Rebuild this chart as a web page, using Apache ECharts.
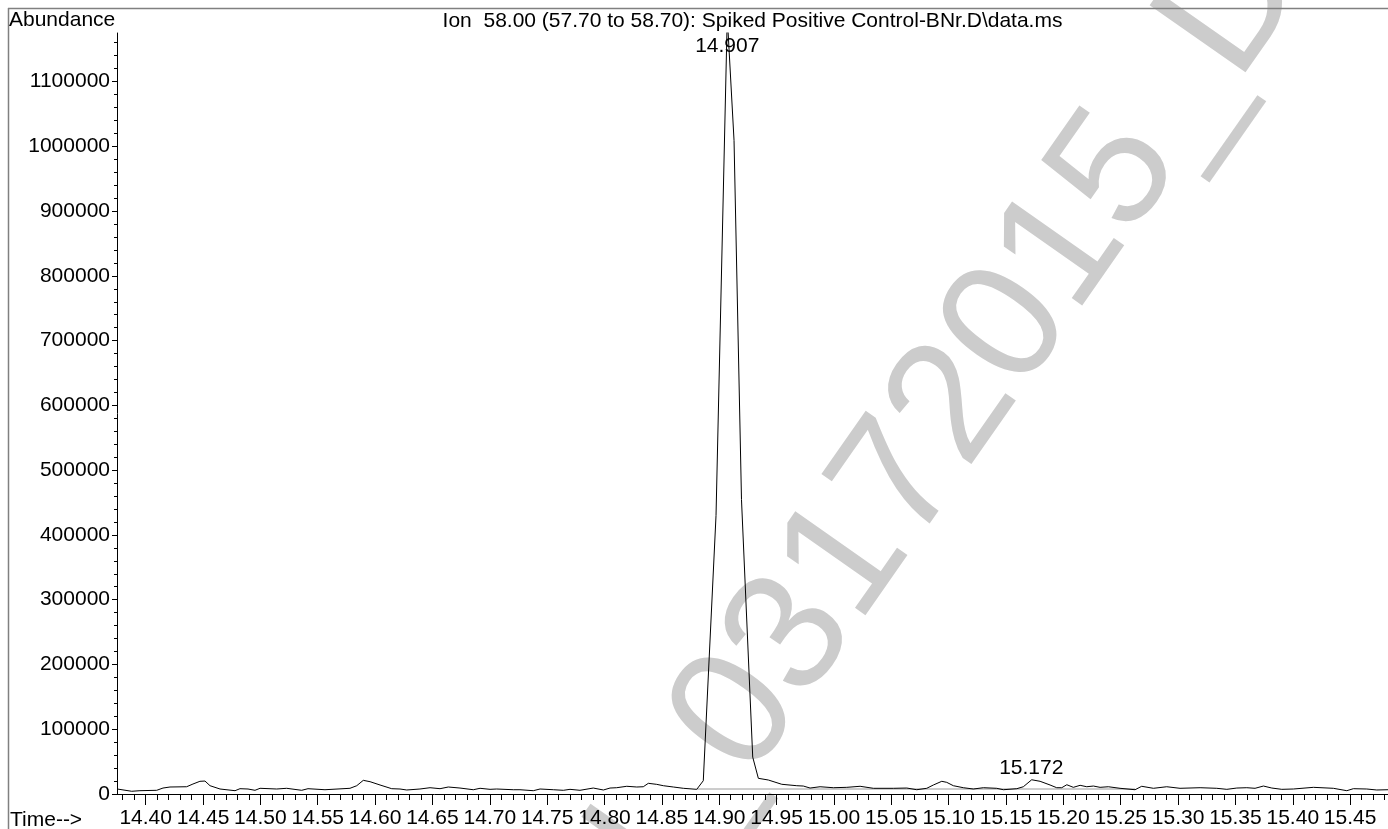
<!DOCTYPE html>
<html lang="en">
<head>
<meta charset="UTF-8">
<title>Ion 58.00 chromatogram</title>
<style>
    html, body { margin: 0; padding: 0; background: #ffffff; }
    #chart { width: 1388px; height: 829px; }
</style>
<script src="https://cdn.jsdelivr.net/npm/echarts@6.0.0/dist/echarts.min.js"></script>
</head>
<body>
<div id="chart"></div>
<script>
// retention time (min) and abundance
const times = [
    14.3752, 14.3878, 14.3950, 14.4096, 14.4151, 14.4212, 14.4357, 14.4412, 14.4473, 14.4517,
    14.4561, 14.4648, 14.4779, 14.4822, 14.4892, 14.4953, 14.4997, 14.5142, 14.5229, 14.5360,
    14.5415, 14.5563, 14.5781, 14.5840, 14.5897, 14.5956, 14.6043, 14.6145, 14.6217,
    14.6276, 14.6391, 14.6479, 14.6566, 14.6638, 14.6740, 14.6856, 14.6915, 14.7002, 14.7060,
    14.7205, 14.7263, 14.7379, 14.7438, 14.7554, 14.7641, 14.7699, 14.7786, 14.7902, 14.7990,
    14.8048, 14.8106, 14.8194, 14.8281, 14.8338, 14.8382, 14.8455, 14.8513, 14.8600, 14.8687,
    14.8804, 14.8861,
    14.8972, 14.9070, 14.9129, 14.9194, 14.9292, 14.9341, 14.9428, 14.9545,
    14.9676, 14.9733, 14.9792, 14.9879, 14.9995, 15.0112, 15.0228, 15.0344, 15.0518, 15.0635,
    15.0722, 15.0809, 15.0867, 15.0940, 15.0983, 15.1041, 15.1128, 15.1215, 15.1303, 15.1419,
    15.1477, 15.1594, 15.1651, 15.1724, 15.1797, 15.1884, 15.1942, 15.1986, 15.2030, 15.2087,
    15.2146, 15.2204, 15.2262, 15.2320, 15.2392, 15.2494, 15.2625, 15.2683, 15.2785, 15.2901,
    15.3017, 15.3192, 15.3337, 15.3425, 15.3512, 15.3599, 15.3671, 15.3744, 15.3817, 15.3904,
    15.4005, 15.4180, 15.4354, 15.4471, 15.4528, 15.4645, 15.4732, 15.4831
];
const abundance = [
    7700, 4200, 5100, 5700, 9200, 10800, 11200, 15400, 19600, 20000,
    12800, 7700, 5100, 8200, 7700, 5700, 8800, 7700, 8800, 5700,
    8200, 6600, 8800, 12800, 21100, 19000, 13900, 8200, 7700,
    6200, 7700, 9700, 8200, 10800, 9200, 6600, 8800, 7200, 7700,
    6600, 6600, 5100, 7700, 6600, 5700, 7200, 5700, 9200, 6200,
    9200, 9700, 11900, 10800, 11200, 16500, 14900, 12800, 10800, 8800,
    7200, 20500,
    430000, 1200000, 1009000, 454500, 57000, 24200, 21600, 15000,
    12800, 12300, 9200, 11200, 9700, 10300, 11900, 8800, 8800, 9200,
    6600, 8800, 13900, 19600, 18000, 12800, 9700, 7700, 9700, 8800,
    6600, 8200, 11200, 22000, 19600, 13900, 9700, 9700, 14300, 10300,
    13400, 11200, 12300, 10300, 11200, 8800, 6600, 11900, 8800, 11200,
    8800, 9700, 8800, 7200, 9200, 9700, 8800, 12300, 9200, 7200,
    7700, 10300, 8800, 5100, 8200, 7700, 6200, 6600
];

// integration baseline under the peaks
const baselineTimes = [14.8804, 15.2625];
const baselineAbundance = [7700, 7700];

// labelled peaks
const peakTimes = [14.907, 15.172];
const peakAbundance = [1200000, 22000];

const xTicks = [14.40, 14.45, 14.50, 14.55, 14.60, 14.65, 14.70, 14.75, 14.80, 14.85, 14.90,
    14.95, 15.00, 15.05, 15.10, 15.15, 15.20, 15.25, 15.30, 15.35, 15.40, 15.45];
const yTicks = [0, 100000, 200000, 300000, 400000, 500000, 600000, 700000, 800000, 900000,
    1000000, 1100000];

const xMin = 14.375, xMax = 15.483;
const yMin = 0, yMax = 1175000;

// minor ticks: every 0.01 min and every 20000 counts
const xMinor = [];
for (let k = 1438; k <= 1548; k++) {
    if (k % 5 !== 0) xMinor.push(k / 100);
}
const yMinor = [];
for (let v = 20000; v < yMax; v += 20000) {
    if (v % 100000 !== 0) yMinor.push(v);
}

const FONT = "'Liberation Sans', Arial, Helvetica, sans-serif";
const traceData = times.map((t, i) => [t, abundance[i]]);
const baselineData = baselineTimes.map((t, i) => [t, baselineAbundance[i]]);

const gridLeft = 117, gridTop = 33, gridBottom = 34;

const staticGraphics = [
    { type: 'line', shape: { x1: 8, y1: 8.5, x2: 1388, y2: 8.5 }, style: { stroke: '#808080', lineWidth: 1.5 }, z: 1 },
    { type: 'line', shape: { x1: 8.5, y1: 8, x2: 8.5, y2: 829 }, style: { stroke: '#808080', lineWidth: 1.5 }, z: 1 },
    // watermark
    {
        type: 'text', x: 928, y: 444, rotation: 55 * Math.PI / 180, z: 0,
        style: { text: 'DI_03172015_DI', fontSize: 170, fontFamily: FONT, fill: '#cccccc', align: 'center', verticalAlign: 'middle' }
    },
    {
        type: 'text', x: 9, y: 20, z: 5,
        style: { text: 'Abundance', fontSize: 21, fontFamily: FONT, fill: '#000', align: 'left', verticalAlign: 'middle' }
    },
    {
        type: 'text', x: (gridLeft + 1388) / 2, y: 21, z: 5,
        style: { text: 'Ion  58.00 (57.70 to 58.70): Spiked Positive Control-BNr.D\\data.ms', fontSize: 21, fontFamily: FONT, fill: '#000', align: 'center', verticalAlign: 'middle' }
    },
    {
        type: 'text', x: 10, y: 820, z: 5,
        style: { text: 'Time-->', fontSize: 21, fontFamily: FONT, fill: '#000', align: 'left', verticalAlign: 'middle' }
    }
];

const option = {
    animation: false,
    backgroundColor: '#ffffff',
    grid: { left: gridLeft, right: 0, top: gridTop, bottom: gridBottom, containLabel: false },
    xAxis: [
        {
            type: 'value', min: xMin, max: xMax, position: 'bottom',
            axisLine: { show: true, lineStyle: { color: '#000', width: 1 } },
            axisTick: { show: true, customValues: xTicks, length: 11, lineStyle: { color: '#000' } },
            axisLabel: {
                show: true, customValues: xTicks, margin: 14, color: '#000',
                fontSize: 21, fontFamily: FONT, formatter: v => v.toFixed(2)
            },
            splitLine: { show: false }
        },
        {
            type: 'value', min: xMin, max: xMax, position: 'bottom',
            axisLine: { show: false },
            axisTick: { show: true, customValues: xMinor, length: 6, lineStyle: { color: '#000' } },
            axisLabel: { show: false },
            splitLine: { show: false }
        }
    ],
    yAxis: [
        {
            type: 'value', min: yMin, max: yMax, position: 'left',
            axisLine: { show: true, lineStyle: { color: '#000', width: 1 } },
            axisTick: { show: true, customValues: yTicks, length: 5, lineStyle: { color: '#000' } },
            axisLabel: {
                show: true, customValues: yTicks, margin: 7, color: '#000',
                fontSize: 21, fontFamily: FONT, formatter: v => String(v)
            },
            splitLine: { show: false }
        },
        {
            type: 'value', min: yMin, max: yMax, position: 'left',
            axisLine: { show: false },
            axisTick: { show: true, customValues: yMinor, length: 3, lineStyle: { color: '#000' } },
            axisLabel: { show: false },
            splitLine: { show: false }
        }
    ],
    series: [
        {
            name: 'Ion 58.00', type: 'line', xAxisIndex: 0, yAxisIndex: 0,
            data: traceData, showSymbol: false, symbol: 'none', z: 4,
            lineStyle: { color: '#000', width: 1 }
        },
        {
            name: 'baseline', type: 'line', xAxisIndex: 0, yAxisIndex: 0,
            data: baselineData, showSymbol: false, symbol: 'none', z: 3,
            lineStyle: { color: '#9a9a9a', width: 1 }
        }
    ],
    graphic: staticGraphics
};

const chart = echarts.init(document.getElementById('chart'));
chart.setOption(option);

// retention time labels sit just above the apex, kept inside the plot
const peakGraphics = peakTimes.map((t, i) => {
    const p = chart.convertToPixel({ seriesIndex: 0 }, [t, peakAbundance[i]]);
    return {
        type: 'text', x: p[0], y: Math.max(p[1] - 12, gridTop + 13), z: 3,
        style: { text: t.toFixed(3), fontSize: 21, fontFamily: FONT, fill: '#000', align: 'center', verticalAlign: 'middle' }
    };
});
chart.setOption({ graphic: staticGraphics.concat(peakGraphics) });
</script>
</body>
</html>
